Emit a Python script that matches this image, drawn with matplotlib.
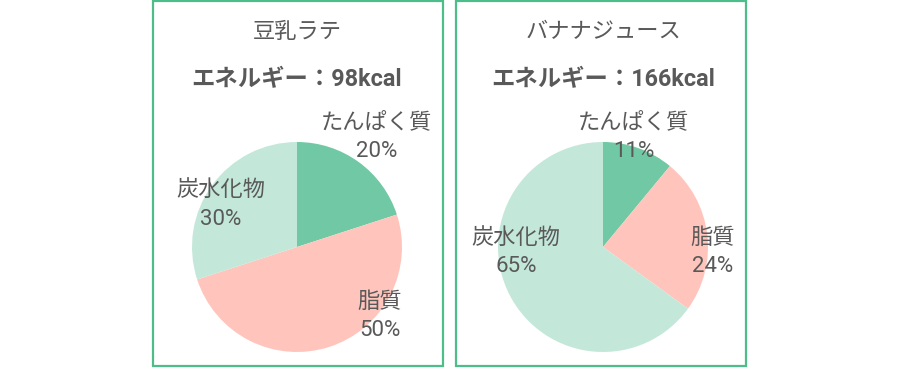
import matplotlib.pyplot as plt
from matplotlib.patches import Rectangle

plt.rcParams['font.family'] = ['Roboto', 'Noto Sans CJK JP', 'DejaVu Sans']

# データ
drinks = ['豆乳ラテ', 'バナナジュース']
energy = [98, 166]
nutrients = ['たんぱく質', '脂質', '炭水化物']
latte_pct = [20, 50, 30]
banana_pct = [11, 24, 65]
values = [latte_pct, banana_pct]

colors = ['#70c9a4', '#ffc5bc', '#c3e8da']
text_color = '#595959'
border_color = '#4dbd8a'

W, H = 900, 369
fig = plt.figure(figsize=(9, 3.69), dpi=100)

# ラベル位置（半径1の座標系）
label_pos = [
    [(0.76, 1.04), (0.79, -0.66), (-0.73, 0.40)],
    [(0.29, 1.04), (1.04, -0.05), (-0.83, -0.05)],
]

boxes = [(153, 443), (456, 746)]
centers = [297, 603]
radius = 105
cy = 247

for i in range(2):
    x0, x1 = boxes[i]
    fig.patches.append(Rectangle((x0 / W, 1 - 366 / H), (x1 - x0) / W, 365 / H,
                                 transform=fig.transFigure, fill=False,
                                 edgecolor=border_color, linewidth=1.6))
    cx = centers[i]
    fig.text(cx / W, 1 - 33 / H, drinks[i], ha='center', va='center',
             fontsize=16, color=text_color)
    fig.text(cx / W, 1 - 80 / H, 'エネルギー：%dkcal' % energy[i], ha='center',
             va='center', fontsize=16.8, fontweight='bold', color=text_color)

    ax = fig.add_axes([(cx - radius) / W, 1 - (cy + radius) / H,
                       2 * radius / W, 2 * radius / H])
    ax.pie(values[i], colors=colors, startangle=90, counterclock=False,
           radius=1)
    ax.set_xlim(-1, 1)
    ax.set_ylim(-1, 1)
    ax.set_aspect('equal')
    ax.axis('off')
    for name, v, (lx, ly) in zip(nutrients, values[i], label_pos[i]):
        ax.text(lx, ly, '%s\n%d%%' % (name, v), ha='center', va='center',
                fontsize=16, color=text_color, linespacing=1.45)

plt.savefig('out.png', dpi=100)
